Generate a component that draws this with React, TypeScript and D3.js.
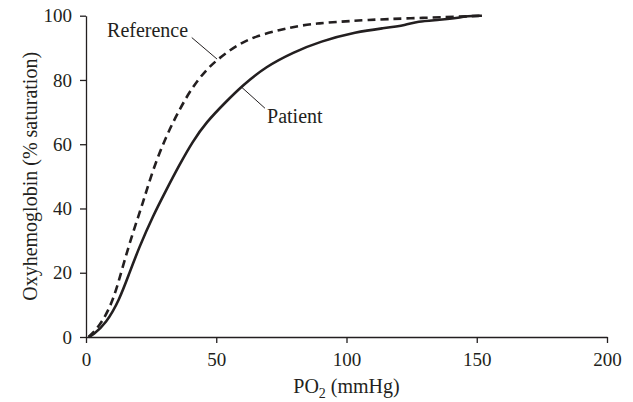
import React, { useRef, useEffect } from 'react';
import * as d3 from 'd3';

// PO2 (mmHg) and saturation (%)
const referencePO2 = [1, 5.1, 10.2, 14.1, 17.9, 21.8, 25.6, 30.7, 35.8, 40.9, 46.1, 50.5, 57.8, 65, 75, 82, 89, 95, 108, 124, 144, 152];
const referenceSat = [0, 3.2, 10.5, 21.9, 32.3, 41.6, 51.9, 62.4, 70.7, 77.9, 83.1, 86.4, 90.8, 93.6, 95.7, 96.9, 97.6, 98.0, 98.7, 99.2, 99.7, 100];

const patientPO2 = [1, 2.6, 7.7, 12.8, 16.6, 20.5, 25.6, 30.7, 35.8, 40.9, 46.1, 53.7, 60.1, 69.1, 79.6, 89.8, 103.9, 114.1, 123.1, 126.9, 135.9, 143.6, 146.1, 152];
const patientSat = [0, 0.6, 4.2, 11.5, 19.8, 28.1, 37.5, 45.6, 53.5, 60.8, 66.8, 73.2, 78.3, 84.2, 88.6, 92.0, 95, 96.1, 97.1, 98.2, 98.7, 99.4, 99.9, 100];

const xTicks = [0, 50, 100, 150, 200];
const yTicks = [0, 20, 40, 60, 80, 100];

// label text, label anchor, pointer start, pointer end (data units)
const labelNames = ['Reference', 'Patient'];
const labelPos = [[39.2, 93.5], [69.5, 66.5]];
const labelAnchor = ['end', 'start'];
const pointerFrom = [[40.6, 93.2], [59.8, 77.7]];
const pointerTo = [[50.3, 86.5], [68.7, 71.2]];

const ink = '#231f20';
const font = "'Liberation Serif', 'Times New Roman', Times, 'DejaVu Serif', serif";

const App = () => {
  const svgRef = useRef<SVGSVGElement | null>(null);

  useEffect(() => {
    const w = 633;
    const h = 402;
    const svg = d3
      .select(svgRef.current)
      .attr('width', w)
      .attr('height', h)
      .attr('font-family', font);
    svg.selectAll('*').remove();

    const x = d3.scaleLinear().domain([0, 200]).range([86, 607]);
    const y = d3.scaleLinear().domain([0, 100]).range([337, 15.7]);

    // axes
    const xAxis = d3.axisBottom(x).tickValues(xTicks).tickSize(6).tickSizeOuter(0).tickPadding(10);
    const yAxis = d3.axisLeft(y).tickValues(yTicks).tickSize(6).tickSizeOuter(0).tickPadding(8);

    const gx = svg.append('g').attr('transform', `translate(0, ${y(0)})`).call(xAxis);
    const gy = svg.append('g').attr('transform', `translate(${x(0)}, 0)`).call(yAxis);

    [gx, gy].forEach((g) => {
      g.attr('font-family', font).attr('font-size', 19);
      g.select('.domain').attr('stroke', ink).attr('stroke-width', 1.3);
      g.selectAll('.tick line').attr('stroke', ink).attr('stroke-width', 1.3);
      g.selectAll('.tick text').attr('fill', ink);
    });

    // curves (basis smooths out the reading noise)
    const line = d3
      .line<[number, number]>()
      .x((d) => x(d[0]))
      .y((d) => y(d[1]))
      .curve(d3.curveBasis);

    const refData = referencePO2.map((v, i) => [v, referenceSat[i]] as [number, number]);
    const patData = patientPO2.map((v, i) => [v, patientSat[i]] as [number, number]);

    svg
      .append('path')
      .attr('d', line(refData))
      .attr('fill', 'none')
      .attr('stroke', ink)
      .attr('stroke-width', 2.6)
      .attr('stroke-dasharray', '8,5');

    svg
      .append('path')
      .attr('d', line(patData))
      .attr('fill', 'none')
      .attr('stroke', ink)
      .attr('stroke-width', 2.6);

    // labels with pointer lines
    labelNames.forEach((name, i) => {
      svg
        .append('line')
        .attr('x1', x(pointerFrom[i][0]))
        .attr('y1', y(pointerFrom[i][1]))
        .attr('x2', x(pointerTo[i][0]))
        .attr('y2', y(pointerTo[i][1]))
        .attr('stroke', ink)
        .attr('stroke-width', 1);
      svg
        .append('text')
        .attr('x', x(labelPos[i][0]))
        .attr('y', y(labelPos[i][1]))
        .attr('text-anchor', labelAnchor[i])
        .attr('fill', ink)
        .attr('font-size', 20)
        .text(name);
    });

    // axis titles
    const xt = svg
      .append('text')
      .attr('x', x(100))
      .attr('y', 393)
      .attr('text-anchor', 'middle')
      .attr('fill', ink)
      .attr('font-size', 20);
    xt.append('tspan').text('PO');
    xt.append('tspan').attr('dy', 5).attr('font-size', 14).text('2');
    xt.append('tspan').attr('dy', -5).text(' (mmHg)');

    svg
      .append('text')
      .attr('transform', `translate(37, ${y(50)}) rotate(-90)`)
      .attr('text-anchor', 'middle')
      .attr('fill', ink)
      .attr('font-size', 20)
      .text('Oxyhemoglobin (% saturation)');
  }, []);

  return (
    <div style={{ position: 'absolute', left: 0, top: 0 }}>
      <svg ref={svgRef} style={{ display: 'block', background: '#fff' }}></svg>
    </div>
  );
};

export default App;
